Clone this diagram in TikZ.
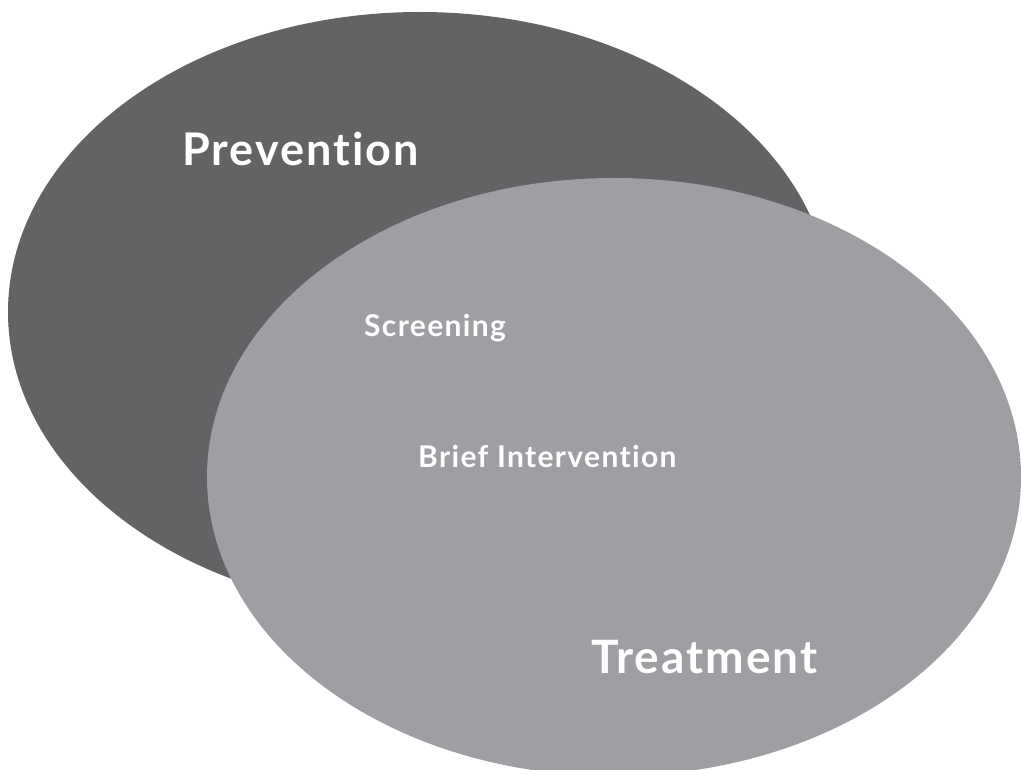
\documentclass[tikz,border=0pt]{standalone}
\usepackage{fontspec}
\setmainfont{Lato}[Ligatures={NoCommon}, LetterSpace=4.5]
\usetikzlibrary{shapes.geometric}
\definecolor{darkgray}{RGB}{99,99,102}
\definecolor{lightgray}{RGB}{158,159,163}
\tikzset{
  blob/.style={ellipse, inner sep=0pt, outer sep=0pt, draw=none},
  label/.style={text=white, anchor=base west, inner sep=0pt, font=\bfseries},
}
\begin{document}
\begin{tikzpicture}[x=1pt,y=-1pt]
\useasboundingbox (0,0) rectangle (1021,770);
\begin{scope}
\clip (0,0) rectangle (1021,770);
\node[blob, fill=darkgray, minimum width=824pt, minimum height=600pt] (prev) at (420,312) {};
\node[blob, fill=lightgray, minimum width=814pt, minimum height=598pt] (treat) at (614,477) {};
\end{scope}
\node[label, font=\bfseries\fontsize{45}{54}\selectfont] (ptext) at (182,166) {Prevention};
\node[label, font=\bfseries\fontsize{30}{36}\selectfont] (stext) at (364,337) {Screening};
\node[label, font=\bfseries\fontsize{30}{36}\selectfont] (btext) at (418,467) {Brief Intervention};
\node[label, font=\bfseries\fontsize{46}{55}\selectfont] (ttext) at (591,673) {Treatment};
\end{tikzpicture}
\end{document}
